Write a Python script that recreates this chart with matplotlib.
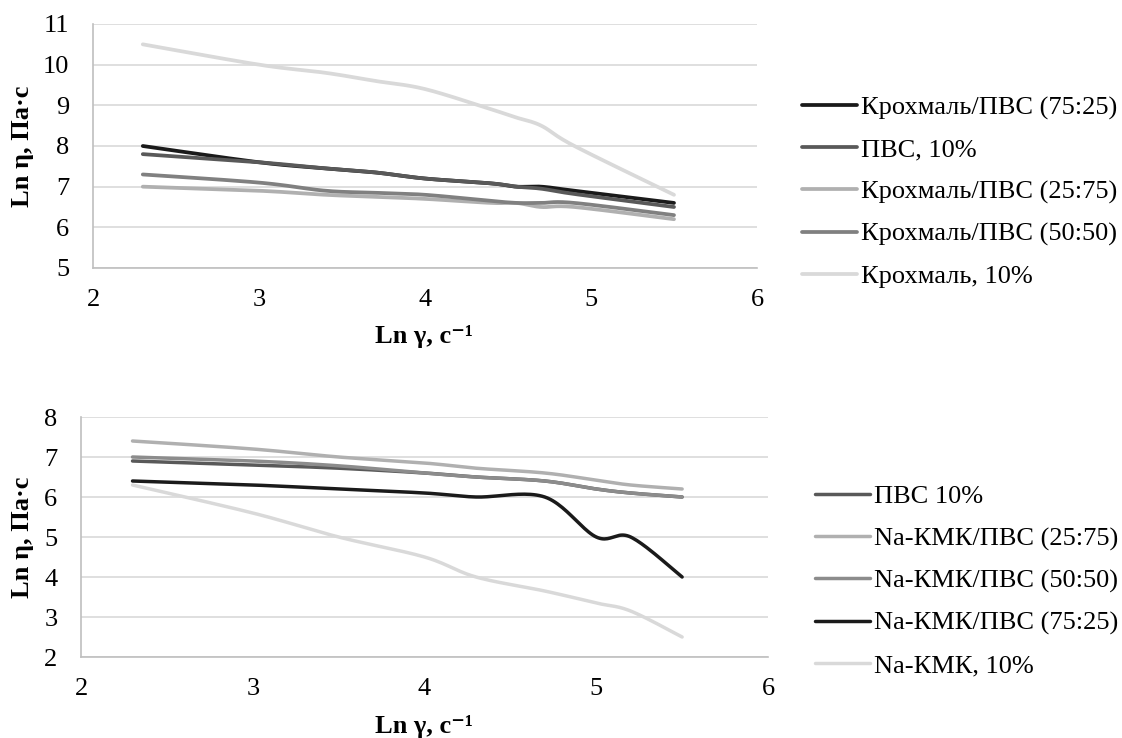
import numpy as np
import matplotlib
matplotlib.use('Agg')
import matplotlib.pyplot as plt

plt.rcParams['font.family'] = ['Liberation Serif', 'DejaVu Serif']

# top chart: starch / PVA blends
x_top = [2.3, 3.0, 3.4, 3.7, 4.0, 4.4, 4.55, 4.7, 4.9, 5.5]
top_names = ['Крохмаль/ПВС (75:25)', 'ПВС, 10%', 'Крохмаль/ПВС (25:75)',
             'Крохмаль/ПВС (50:50)', 'Крохмаль, 10%']
top_vals = [
    [8.0, 7.6, 7.45, 7.35, 7.2, 7.08, 7.0, 7.0, 6.9, 6.6],
    [7.8, 7.6, 7.45, 7.35, 7.2, 7.08, 7.0, 6.95, 6.82, 6.5],
    [7.0, 6.9, 6.8, 6.75, 6.7, 6.6, 6.6, 6.5, 6.5, 6.2],
    [7.3, 7.1, 6.9, 6.85, 6.8, 6.65, 6.6, 6.6, 6.6, 6.3],
    [10.5, 10.0, 9.8, 9.6, 9.4, 8.9, 8.7, 8.5, 8.0, 6.8],
]
top_colors = ['#1a1a1a', '#595959', '#b0b0b0', '#808080', '#d9d9d9']

# bottom chart: Na-CMC / PVA blends
x_bot = [2.3, 3.0, 3.5, 4.0, 4.3, 4.7, 5.0, 5.2, 5.5]
bot_names = ['ПВС 10%', 'Na-КМК/ПВС (25:75)', 'Na-КМК/ПВС (50:50)',
             'Na-КМК/ПВС (75:25)', 'Na-КМК, 10%']
bot_vals = [
    [6.9, 6.8, 6.72, 6.6, 6.5, 6.4, 6.2, 6.1, 6.0],
    [7.4, 7.2, 7.0, 6.85, 6.72, 6.6, 6.42, 6.3, 6.2],
    [7.0, 6.9, 6.78, 6.6, 6.5, 6.4, 6.2, 6.1, 6.0],
    [6.4, 6.3, 6.2, 6.1, 6.0, 6.0, 5.0, 5.0, 4.0],
    [6.3, 5.6, 5.0, 4.5, 4.0, 3.65, 3.35, 3.15, 2.5],
]
bot_colors = ['#595959', '#b0b0b0', '#8c8c8c', '#1a1a1a', '#d9d9d9']


def smooth(x, y, n=24):
    # Excel-like smoothed line (Catmull-Rom as cubic bezier)
    p = np.column_stack([x, y]).astype(float)
    out = []
    for i in range(len(p) - 1):
        p0 = p[i - 1] if i > 0 else p[i]
        p1, p2 = p[i], p[i + 1]
        p3 = p[i + 2] if i + 2 < len(p) else p[i + 1]
        c1 = p1 + (p2 - p0) / 6
        c2 = p2 - (p3 - p1) / 6
        t = np.linspace(0, 1, n)[:, None]
        seg = ((1 - t) ** 3 * p1 + 3 * (1 - t) ** 2 * t * c1
               + 3 * (1 - t) * t ** 2 * c2 + t ** 3 * p2)
        out.append(seg if i == 0 else seg[1:])
    s = np.vstack(out)
    return s[:, 0], s[:, 1]


W, H = 1122, 738
fig = plt.figure(figsize=(W / 100, H / 100), dpi=100)
fs = 19


def style(ax, ylim, yticks):
    ax.set_xlim(2, 6)
    ax.set_ylim(*ylim)
    ax.set_xticks([2, 3, 4, 5, 6])
    ax.set_yticks(yticks)
    ax.grid(axis='y', color='#d9d9d9', lw=1.2)
    ax.set_axisbelow(True)
    for s in ['top', 'right']:
        ax.spines[s].set_visible(False)
    for s in ['left', 'bottom']:
        ax.spines[s].set_color('#bfbfbf')
        ax.spines[s].set_linewidth(1.2)
    ax.tick_params(axis='both', length=0, labelsize=fs)
    ax.tick_params(axis='x', pad=15)
    ax.tick_params(axis='y', pad=17)


ax1 = fig.add_axes([93 / W, 1 - 268 / H, (757 - 93) / W, (268 - 24) / H])
style(ax1, (5, 11), range(5, 12))
for name, vals, c in zip(top_names, top_vals, top_colors):
    xs, ys = smooth(x_top, vals)
    ax1.plot(xs, ys, color=c, lw=2.7, label=name, solid_capstyle='round')

ax2 = fig.add_axes([81 / W, 1 - 657 / H, (768 - 81) / W, (657 - 417) / H])
style(ax2, (2, 8), range(2, 9))
for name, vals, c in zip(bot_names, bot_vals, bot_colors):
    xs, ys = smooth(x_bot, vals)
    ax2.plot(xs, ys, color=c, lw=2.5, label=name, solid_capstyle='round')

leg_kw = dict(loc='center left', frameon=False, fontsize=fs, borderpad=0,
              borderaxespad=0, handlelength=2.1, handletextpad=0.12,
              labelspacing=0.7)
fig.legend(handles=ax1.get_lines(), bbox_transform=fig.transFigure,
           bbox_to_anchor=(802 / W, 1 - 192 / H), **leg_kw)
fig.legend(handles=ax2.get_lines(), bbox_transform=fig.transFigure,
           bbox_to_anchor=(815 / W, 1 - 581 / H), **leg_kw)

# axis titles
fig.text(424 / W, 1 - 337 / H, 'Ln γ, с⁻¹', ha='center', va='center',
         fontsize=fs, fontweight='bold')
fig.text(424 / W, 1 - 726 / H, 'Ln γ, с⁻¹', ha='center', va='center',
         fontsize=fs, fontweight='bold')
fig.text(23 / W, 1 - 146 / H, 'Ln η, Па·с', ha='center', va='center',
         rotation=90, fontsize=fs, fontweight='bold')
fig.text(23 / W, 1 - 537 / H, 'Ln η, Па·с', ha='center', va='center',
         rotation=90, fontsize=fs, fontweight='bold')

fig.savefig('out.png', dpi=100)
